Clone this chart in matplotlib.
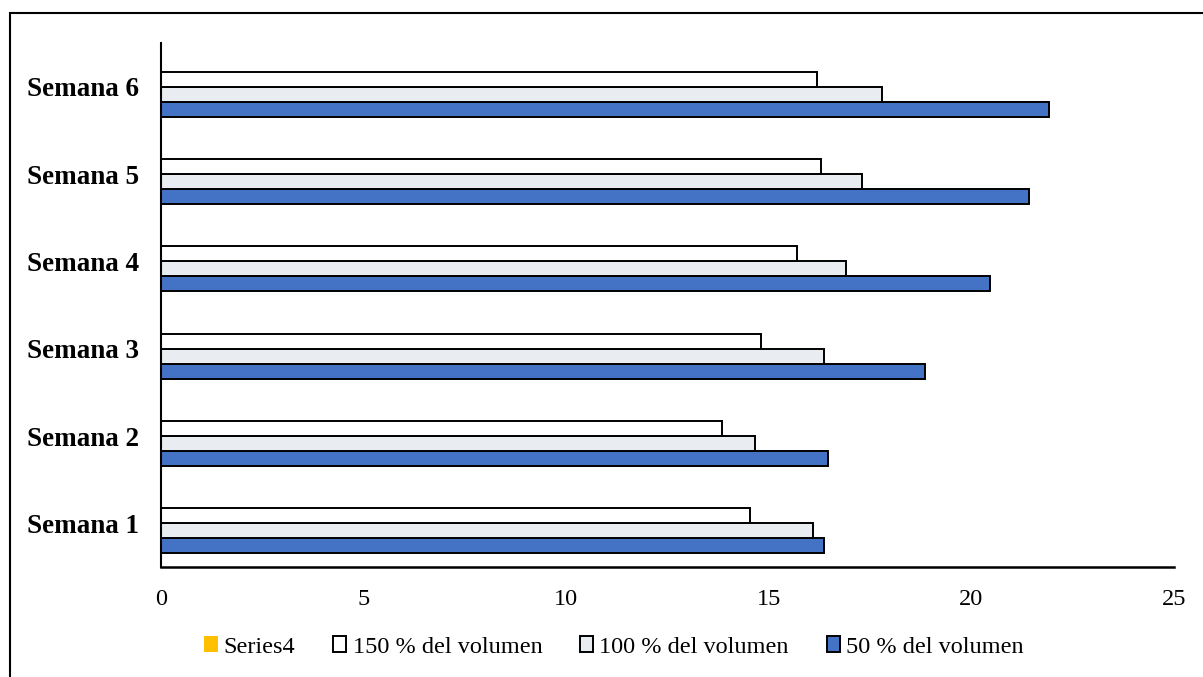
import numpy as np
import matplotlib.pyplot as plt
from matplotlib.patches import Rectangle

# =====================================================
# =========              Data                 =========
# =====================================================

semanas = ["Semana 1", "Semana 2", "Semana 3", "Semana 4", "Semana 5", "Semana 6"]

vol_50 = [16.36, 16.46, 18.86, 20.46, 21.42, 21.91]
vol_100 = [16.10, 14.65, 16.36, 16.91, 17.31, 17.79]
vol_150 = [14.54, 13.85, 14.80, 15.70, 16.30, 16.20]
series4 = [0, 0, 0, 0, 0, 0]

x_ticks = [0, 5, 10, 15, 20, 25]

# =====================================================
# =========              Plot                 =========
# =====================================================

plt.rcParams["font.family"] = ["Liberation Serif", "DejaVu Serif"]

W, H = 1203, 677
fig = plt.figure(figsize=(W / 100, H / 100), dpi=100)
ax = fig.add_axes([161 / W, 1 - 567 / H, (1174 - 161) / W, (567 - 43) / H])

y = np.arange(len(semanas))
h = 0.1715
lw = 1.4

ax.barh(y - 1.5 * h, vol_50, height=h, color="#4472C4", edgecolor="black",
        linewidth=lw, label="50 % del volumen")
ax.barh(y - 0.5 * h, vol_100, height=h, color="#E9EDF2", edgecolor="black",
        linewidth=lw, label="100 % del volumen")
ax.barh(y + 0.5 * h, vol_150, height=h, color="white", edgecolor="black",
        linewidth=lw, label="150 % del volumen")
ax.barh(y + 1.5 * h, series4, height=h, color="#FFC000", edgecolor="none",
        label="Series4")

ax.set_xlim(0, 25)
ax.set_ylim(-0.5, len(semanas) - 0.5)
ax.set_xticks(x_ticks)
ax.set_xticklabels([str(t) for t in x_ticks], fontsize=17.5)
ax.set_yticks(y)
ax.set_yticklabels(semanas, fontsize=19.5, fontweight="bold")
ax.tick_params(axis="x", length=0, pad=16)
ax.tick_params(axis="y", length=0, pad=16)

for side in ["top", "right"]:
    ax.spines[side].set_visible(False)
ax.spines["left"].set_linewidth(1.5)
ax.spines["bottom"].set_linewidth(1.8)

handles, labels = ax.get_legend_handles_labels()
fig.legend(handles[::-1], labels[::-1], loc="center", ncol=4,
           bbox_to_anchor=(614 / W, 1 - 647 / H), frameon=False, fontsize=17.5,
           handlelength=0.55, handleheight=0.6, handletextpad=0.25,
           columnspacing=1.55, borderaxespad=0)

# outer chart frame (right and bottom edges fall outside the image)
fig.patches.append(Rectangle((10 / W, -0.1), 1.2, 1.1 - 13 / H,
                             transform=fig.transFigure, fill=False,
                             edgecolor="black", linewidth=1.5))

fig.savefig("out.png", dpi=100)
plt.close(fig)
